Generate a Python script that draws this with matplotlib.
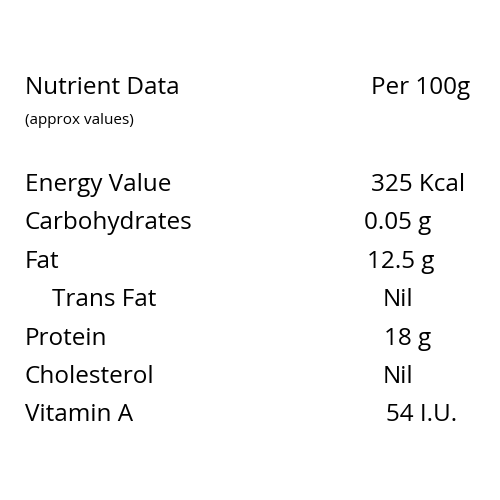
import matplotlib.pyplot as plt

plt.rcParams['font.family'] = ['Open Sans', 'DejaVu Sans']

nutrients = ["Energy Value", "Carbohydrates", "Fat", "Trans Fat", "Protein", "Cholesterol", "Vitamin A"]
name_x = [25, 25, 25, 52, 25, 25, 25]
amounts = ["325 Kcal", "0.05 g", "12.5 g", "Nil", "18 g", "Nil", "54 I.U."]
amount_x = [371, 364, 367, 383, 384, 383, 386]
row_y = [185, 223, 262, 300, 339, 377, 415]

fig = plt.figure(figsize=(5, 5), dpi=100)
fig.patch.set_facecolor('white')

def px(x, y):
    return x / 500, 1 - y / 500

fs = 17.5
fig.text(*px(25, 88), "Nutrient Data", fontsize=fs, va='center')
fig.text(*px(371, 88), "Per 100g", fontsize=fs, va='center')
fig.text(*px(25, 120), "(approx values)", fontsize=11, va='center')

for name, nx, amt, ax_, y in zip(nutrients, name_x, amounts, amount_x, row_y):
    fig.text(*px(nx, y), name, fontsize=fs, va='center')
    fig.text(*px(ax_, y), amt, fontsize=fs, va='center')

plt.savefig("out.png", dpi=100)
